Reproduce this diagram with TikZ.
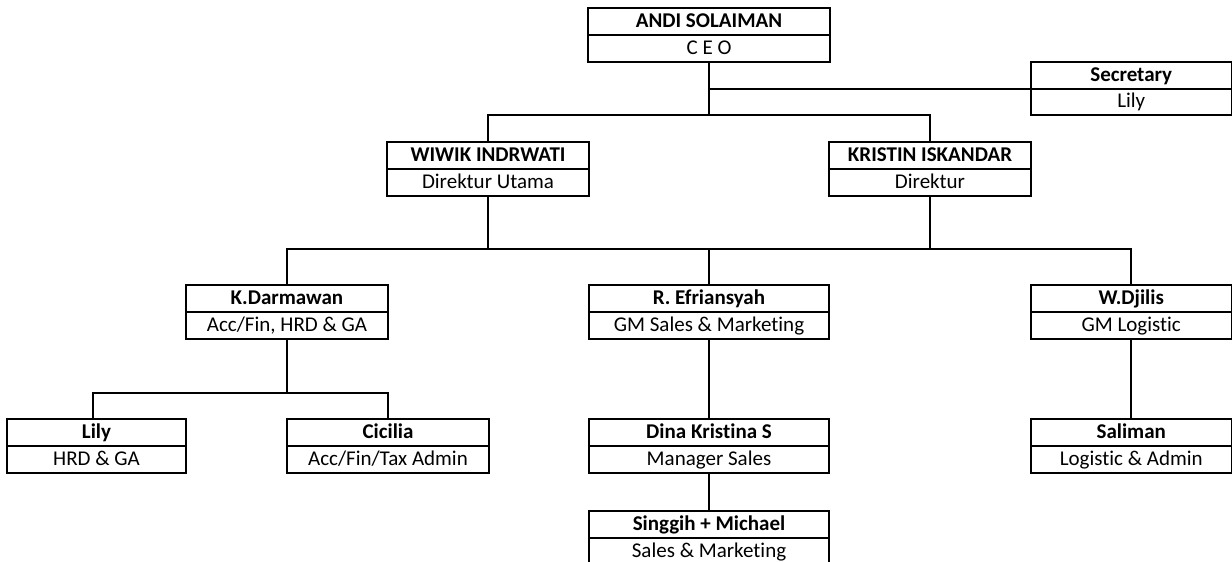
\documentclass[tikz,border=0pt]{standalone}
\usepackage{fontspec}
\setmainfont{Carlito}[Ligatures=NoCommon]
\tikzset{
  orgframe/.style={draw=black, line width=2pt, rectangle, inner sep=0pt, outer sep=0pt, fill=white},
  orgtext/.style={inner sep=0pt, outer sep=0pt, text height=13.8pt, text depth=2pt, font=\fontsize{21}{24}\selectfont},
  orgtitle/.style={orgtext, font=\fontsize{21}{24}\selectfont\bfseries},
  link/.style={draw=black, line width=2pt}
}
% name, x1, x2, ytop, ybot, title, role
\newcommand{\orgbox}[7]{%
  \node[orgframe, minimum width={#3-#2}, minimum height={#5-#4}] (#1) at ({(#2+#3)/2},{-(#4+#5)/2}) {};
  \draw[link] (#1.west) -- (#1.east);
  \node[orgtitle] (#1-t) at ({(#2+#3)/2},{-(3*#4+#5)/4}) {#6};
  \node[orgtext] (#1-r) at ({(#2+#3)/2},{-(#4+3*#5)/4}) {#7};
}
\begin{document}
\begin{tikzpicture}[x=1pt,y=1pt]
\fill[white] (0,0) rectangle (1232,-562);
\useasboundingbox (0,0) rectangle (1232,-562);

\orgbox{ceo}{588}{830}{8}{62}{ANDI SOLAIMAN}{C E O}
\orgbox{sec}{1031}{1231.5}{62}{115}{Secretary}{Lily}
\orgbox{wiwik}{387}{589}{142}{196}{WIWIK INDRWATI}{Direktur Utama}
\orgbox{kristin}{829}{1031}{142}{196}{KRISTIN ISKANDAR}{Direktur}
\orgbox{darm}{186}{388}{285}{339}{K.Darmawan}{Acc/Fin, HRD \& GA}
\orgbox{efri}{589}{829}{285}{339}{R. Efriansyah}{GM Sales \& Marketing}
\orgbox{djilis}{1031}{1231.5}{285}{339}{W.Djilis}{GM Logistic}
\orgbox{lily}{7}{186}{419}{473}{Lily}{HRD \& GA}
\orgbox{cicilia}{287}{489}{419}{473}{Cicilia}{Acc/Fin/Tax Admin}
\orgbox{dina}{589}{829}{419}{473}{Dina Kristina S}{Manager Sales}
\orgbox{saliman}{1031}{1231.5}{419}{473}{Saliman}{Logistic \& Admin}
\orgbox{singgih}{589}{829}{511}{565}{Singgih + Michael}{Sales \& Marketing}

\coordinate (b1) at (709,-115);
\coordinate (b2) at (709,-249);
\coordinate (b3) at (287,-393);
\coordinate (lilyup) at (93,-419);

% CEO level
\draw[link] (ceo.south) -- (b1);
\draw[link] (ceo.south |- sec.west) -- (sec.west);
\draw[link] (wiwik.north) |- (b1) -| (kristin.north);

% directors to managers
\draw[link] (wiwik.south) -- (wiwik.south |- b2);
\draw[link] (kristin.south) -- (kristin.south |- b2);
\draw[link] (darm.north) |- (b2) -| (djilis.north);
\draw[link] (b2) -- (efri.north);

% Darmawan branch
\draw[link] (darm.south) -- (b3);
\draw[link] (lilyup) |- (b3) -| (cicilia.north);

% sales and logistic
\draw[link] (efri.south) -- (dina.north);
\draw[link] (dina.south) -- (singgih.north);
\draw[link] (djilis.south) -- (saliman.north);
\end{tikzpicture}
\end{document}
